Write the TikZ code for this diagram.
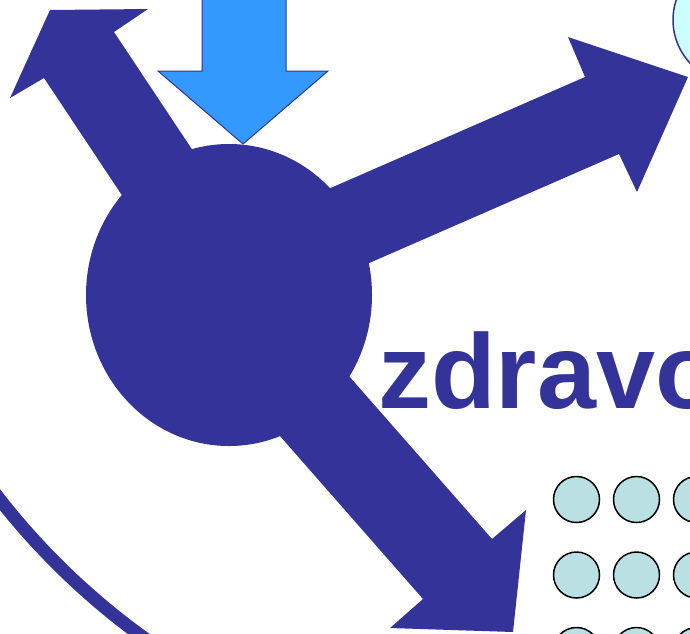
\documentclass[tikz,border=0pt]{standalone}
\usepackage{fontspec}
\setmainfont{Liberation Sans}
\definecolor{navy}{HTML}{333399}
\definecolor{skyarrow}{HTML}{3399FF}
\definecolor{palecyan}{HTML}{CCFFFF}
\definecolor{dotfill}{HTML}{BBE0E3}
\tikzset{
  hubshape/.style={fill=navy, draw=none},
  dotcircle/.style={circle, draw=black, line width=1.5pt, fill=dotfill, minimum size=46pt, inner sep=0pt},
  bigword/.style={text=navy, font=\fontsize{106}{120}\selectfont\bfseries, anchor=base west, inner sep=0pt}
}
\begin{document}
\begin{tikzpicture}[x=1pt,y=-1pt]
\useasboundingbox (0,0) rectangle (690,633);
\clip (0,0) rectangle (690,633);
% outer ring arc
\draw[navy, line width=13pt] (560,60) circle[radius=712];
% light cyan circle top right
\draw[navy, line width=1.5pt, fill=palecyan] (736,20) circle[radius=63];
% hub
\fill[hubshape] (229,295) ellipse[x radius=143, y radius=151];
% arrows
\fill[hubshape] (225,199) -- (114,32) -- (148,9) -- (50,10) -- (10,98) -- (44,78) -- (155,245) -- cycle;
\fill[hubshape] (310,197) -- (585,77) -- (568,37) -- (688,77) -- (637,192) -- (619,154) -- (344,274) -- cycle;
\fill[hubshape] (327,351) -- (492,539) -- (526,510) -- (513,632) -- (390,628) -- (423,599) -- (258,411) -- cycle;
% light blue down arrow
\draw[navy, line width=1pt, fill=skyarrow] (202,-5) -- (202,71) -- (158,71) -- (243,144) -- (328,71) -- (286,71) -- (286,-5) -- cycle;
% text
\node[bigword] (word) at (378,408) {zdravo};
% dots
\foreach \r/\yy in {1/499.5, 2/575, 3/650.5} {
  \foreach \c/\xx in {1/576.5, 2/636.5, 3/696.5} {
    \node[dotcircle] (d\r\c) at (\xx,\yy) {};
  }
}
\end{tikzpicture}
\end{document}
